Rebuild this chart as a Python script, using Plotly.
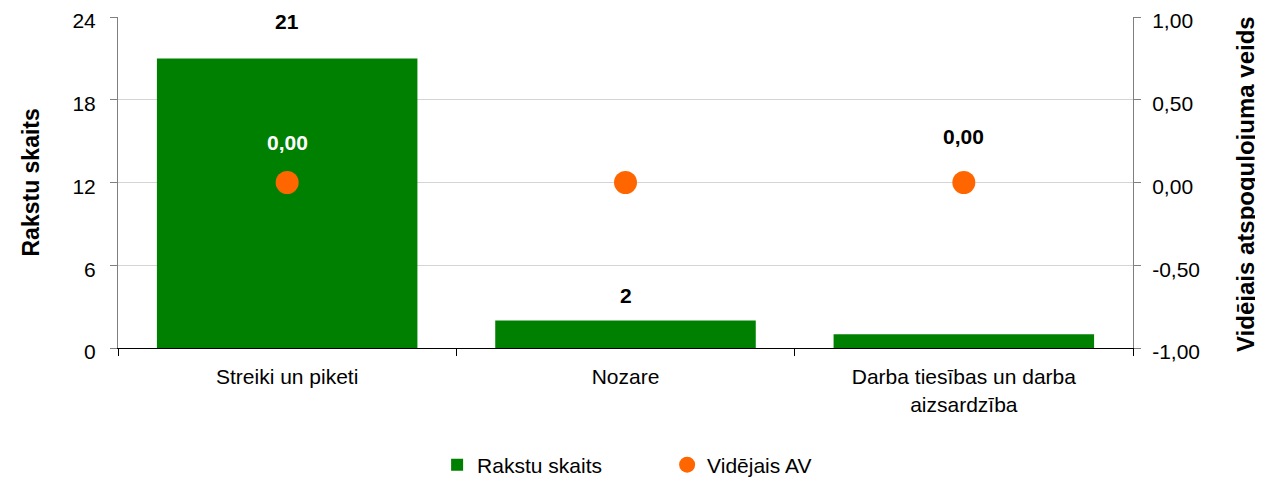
import plotly.graph_objects as go

categories = ["Streiki un piketi", "Nozare", "Darba tiesības un darba<br>aizsardzība"]
rakstu_skaits = [21, 2, 1]
videjais_av = [0.0, 0.0, 0.0]
bar_label_colors = ["black", "black", "white"]
av_label_colors = ["white", "white", "black"]
left_ticks = [0, 6, 12, 18, 24]
right_tickvals = [-1.0, -0.5, 0.0, 0.5, 1.0]
right_ticktext = ["-1,00", "-0,50", "0,00", "0,50", "1,00"]

FONT = "Liberation Sans, Arial, sans-serif"
FS = 21

# page has an 8px body margin: figure sized to fit the window
W, H = 1255, 471
L, T = 110, 9
PW, PH = 1015, 331
R, B = W - L - PW, H - T - PH


def px_x(page_x):
    return (page_x - 8 - L) / PW


def px_y(page_y):
    return (T + PH - (page_y - 8)) / PH


fig = go.Figure()
fig.add_trace(go.Bar(
    x=categories, y=rakstu_skaits, name="Rakstu skaits",
    marker=dict(color="#008000", line=dict(width=0)),
    yaxis="y",
))
fig.add_trace(go.Scatter(
    x=categories, y=videjais_av, name="Vidējais AV", mode="markers",
    marker=dict(color="#FF6600", size=23),
    yaxis="y2",
))

bar_shifts = [37, 25, None]
for c, v, col, s in zip(categories, rakstu_skaits, bar_label_colors, bar_shifts):
    if s is None:
        continue  # label hidden (white on white) in the reference
    fig.add_annotation(x=c, y=v, xref="x", yref="y", text=f"<b>{v}</b>",
                       showarrow=False, yshift=s,
                       font=dict(family=FONT, size=FS, color=col))
av_shifts = [40, 40, 46]
for c, v, col, s in zip(categories, videjais_av, av_label_colors, av_shifts):
    fig.add_annotation(x=c, y=v, xref="x", yref="y2",
                       text="<b>" + f"{v:.2f}".replace(".", ",") + "</b>",
                       showarrow=False, yshift=s,
                       font=dict(family=FONT, size=FS, color=col))

# axis titles
fig.add_annotation(x=px_x(30), y=0.5, xref="paper", yref="paper",
                   xanchor="center", yanchor="middle",
                   text="<b>Rakstu skaits</b>", textangle=-90, showarrow=False,
                   font=dict(family=FONT, size=23, color="black"))
fig.add_annotation(x=px_x(1245), y=px_y(184), xref="paper", yref="paper",
                   xanchor="center", yanchor="middle",
                   text="<b>Vidējais atspoguļojuma veids</b>", textangle=-90, showarrow=False,
                   font=dict(family=FONT, size=24, color="black"))

fig.update_layout(
    width=W, height=H,
    margin=dict(l=L, r=R, t=T, b=B, autoexpand=False),
    paper_bgcolor="white", plot_bgcolor="white",
    font=dict(family=FONT, size=FS, color="black"),
    bargap=0.23,
    showlegend=True,
    legend=dict(orientation="h", x=0.541, xanchor="center", y=px_y(465), yanchor="middle",
                font=dict(size=FS), itemwidth=30, traceorder="normal",
                entrywidth=185, entrywidthmode="pixels"),
    xaxis=dict(showline=True, linecolor="black", linewidth=1, ticks="outside",
               tickson="boundaries", ticklen=7, tickcolor="black", showgrid=False,
               tickfont=dict(size=FS), automargin=False, ticklabelstandoff=10),
    yaxis=dict(range=[0, 24], tickvals=left_ticks, showgrid=True, gridcolor="#d4d4d4",
               showline=True, linecolor="#808080", ticks="outside", ticklen=7,
               tickcolor="#808080", zeroline=False, automargin=False,
               tickfont=dict(size=FS), ticklabeloverflow="allow", ticklabelstandoff=10,
               ticklabelshift=4),
    yaxis2=dict(range=[-1, 1], tickvals=right_tickvals, ticktext=right_ticktext,
                overlaying="y", side="right",
                showgrid=False, showline=True, linecolor="#808080", ticks="outside",
                ticklen=7, tickcolor="#808080", zeroline=False, automargin=False,
                tickfont=dict(size=FS), ticklabeloverflow="allow", ticklabelstandoff=7,
                ticklabelshift=4),
)

fig.write_html("out.html")
